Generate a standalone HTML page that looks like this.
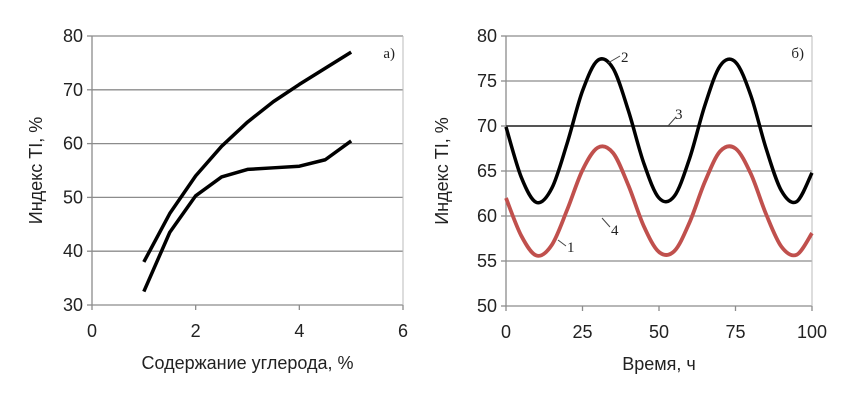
<!DOCTYPE html>
<html><head><meta charset="utf-8"><style>
html,body{margin:0;padding:0;background:#fff;width:859px;height:400px;overflow:hidden}
svg{display:block}
.t{font-family:"Liberation Sans",sans-serif;font-size:18px;fill:#222}
.s{font-family:"Liberation Serif",serif;font-size:15px;fill:#222}
</style></head><body>
<svg id="c" width="859" height="400"></svg>
<script>
const carbonX=[1,1.5,2,2.5,3,3.5,4,4.5,5];
const upperTI=[38,47,54,59.5,64,67.8,71,74,77];
const lowerTI=[32.5,43.5,50.3,53.8,55.2,55.5,55.8,57,60.5];
const leftYTicks=[30,40,50,60,70,80];
const leftXTicks=[0,2,4,6];
const timeX=[0,5,10,15,20,25,30,35,40,45,50,55,60,65,70,75,80,85,90,95,100];
const curve2=[69.9,64.3,61.5,63.1,68.1,73.9,77.3,76.4,71.7,65.9,62.0,62.2,66.4,72.3,76.7,77.1,73.4,67.5,62.8,61.6,64.8];
const curve1=[62.0,57.8,55.6,56.8,60.7,65.1,67.6,67.0,63.4,58.9,56.0,56.1,59.3,63.8,67.2,67.5,64.7,60.2,56.6,55.7,58.1];
const line3=70;
const rightYTicks=[50,55,60,65,70,75,80];
const rightXTicks=[0,25,50,75,100];
const NS='http://www.w3.org/2000/svg';
const svg=document.getElementById('c');
function mk(tag,attrs,parent){const e=document.createElementNS(NS,tag);for(const k in attrs)e.setAttribute(k,attrs[k]);(parent||svg).appendChild(e);return e;}
function smooth(pts){let d='M'+pts[0][0]+','+pts[0][1];for(let i=0;i<pts.length-1;i++){const p0=pts[i-1]||pts[i],p1=pts[i],p2=pts[i+1],p3=pts[i+2]||p2;d+=' C'+(p1[0]+(p2[0]-p0[0])/6)+','+(p1[1]+(p2[1]-p0[1])/6)+' '+(p2[0]-(p3[0]-p1[0])/6)+','+(p2[1]-(p3[1]-p1[1])/6)+' '+p2[0]+','+p2[1];}return d;}
function chart(o){
 const g=mk('g',{});
 
 
 const X=v=>o.x0+(v-o.xmin)/(o.xmax-o.xmin)*(o.x1-o.x0);
 const Y=v=>o.y0-(v-o.ymin)/(o.ymax-o.ymin)*(o.y0-o.y1);
 o.yt.forEach(v=>{
  const l=mk('line',{x1:o.x0,x2:o.x1,y1:Y(v),y2:Y(v),stroke:'#8c8c8c','stroke-width':1.3},g);
  
  
  mk('line',{x1:o.x0-5,x2:o.x0,y1:Y(v),y2:Y(v),stroke:'#8c8c8c','stroke-width':1.3},g);
  const t=mk('text',{x:o.x0-9,y:Y(v)+6,'text-anchor':'end',class:'t'},g);t.textContent=v;
  
  
 });
 mk('line',{x1:o.x0,x2:o.x0,y1:o.y1,y2:o.y0,stroke:'#8c8c8c','stroke-width':1.3},g);
 mk('line',{x1:o.x1,x2:o.x1,y1:o.y1,y2:o.y0,stroke:'#bbb','stroke-width':1},g);
 o.xt.forEach(v=>{
  mk('line',{x1:X(v),x2:X(v),y1:o.y0,y2:o.y0+5,stroke:'#8c8c8c','stroke-width':1.3},g);
  const t=mk('text',{x:X(v),y:o.y0+32,'text-anchor':'middle',class:'t'},g);t.textContent=v;
  
  
 });
 const xt=mk('text',{x:(o.x0+o.x1)/2,y:o.y0+64,'text-anchor':'middle',class:'t'},g);xt.textContent=o.xtitle;
 
 
 const cy=(o.y0+o.y1)/2;
 const yt=mk('text',{x:o.ytx,y:cy,'text-anchor':'middle',class:'t',transform:'rotate(-90 '+o.ytx+' '+cy+')'},g);yt.textContent='Индекс TI, %';
 
 
 const pl=mk('text',{x:o.x1-8,y:o.y1+22,'text-anchor':'end',class:'s'},g);pl.textContent=o.panel;
 
 
 return {g,X,Y};
}
const L=chart({name:'chart-a',x0:92,x1:403,y0:305,y1:36,xmin:0,xmax:6,ymin:30,ymax:80,yt:leftYTicks,xt:leftXTicks,xtitle:'Содержание углерода, %',ytx:42,panel:'а)'});
[[upperTI,'upper-series'],[lowerTI,'lower-series']].forEach(([s,n])=>{
 const p=mk('polyline',{points:carbonX.map((x,i)=>L.X(x)+','+L.Y(s[i])).join(' '),fill:'none',stroke:'#000','stroke-width':3.5,'stroke-linejoin':'round'},L.g);
 
 
});
const R=chart({name:'chart-b',x0:506,x1:812,y0:306,y1:36,xmin:0,xmax:100,ymin:50,ymax:80,yt:rightYTicks,xt:rightXTicks,xtitle:'Время, ч',ytx:448,panel:'б)'});
const l3=mk('line',{x1:R.X(0),x2:R.X(100),y1:R.Y(line3),y2:R.Y(line3),stroke:'#555','stroke-width':2},R.g);


const c1=mk('path',{d:smooth(timeX.map((t,i)=>[R.X(t),R.Y(curve1[i])])),fill:'none',stroke:'#c0504d','stroke-width':3.8},R.g);


const c2=mk('path',{d:smooth(timeX.map((t,i)=>[R.X(t),R.Y(curve2[i])])),fill:'none',stroke:'#000','stroke-width':3.5},R.g);


[['2',608,63,620,56,621,62],['3',668,126,676,117,675,119],['4',602,218,610,227,611,235],['1',558,240,566,246,567,252]].forEach(a=>{
 mk('line',{x1:a[1],y1:a[2],x2:a[3],y2:a[4],stroke:'#444','stroke-width':1},R.g);
 const t=mk('text',{x:a[5],y:a[6],class:'s'},R.g);t.textContent=a[0];
 
 
});
</script>
</body></html>
